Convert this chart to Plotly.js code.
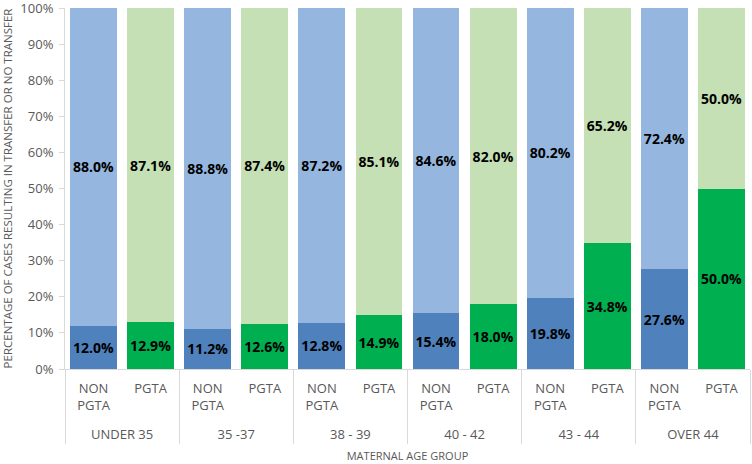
<!DOCTYPE html>
<html><head><meta charset="utf-8">
<script src="https://cdn.plot.ly/plotly-3.0.1.min.js"></script>
<style>html,body{margin:0;padding:0;background:#fff}#c{width:752px;height:464px}</style>
</head><body><div id="c"></div>
<script>
const groups = ["UNDER 35", "35 -37", "38 - 39", "40 - 42", "43 - 44", "OVER 44"];
const subNon = "NON<br>PGTA<br> ";
const subPgta = "PGTA";
const nonBottom = [12.0, 11.2, 12.8, 15.4, 19.8, 27.6];
const nonTop = [88.0, 88.8, 87.2, 84.6, 80.2, 72.4];
const pgtaBottom = [12.9, 12.6, 14.9, 18.0, 34.8, 50.0];
const pgtaTop = [87.1, 87.4, 85.1, 82.0, 65.2, 50.0];
const yTicks = [0,10,20,30,40,50,60,70,80,90,100];

const txtFont = {family: "Open Sans, sans-serif", size: 14, color: "#000", weight: "bold"};
function mk(sub, vals, color, name) {
  return {
    type: "bar", name: name,
    x: [groups, groups.map(() => sub)],
    y: vals,
    marker: {color: color, line: {width: 0}},
    text: vals.map(v => v.toFixed(1) + "%"),
    textposition: "inside", insidetextanchor: "middle",
    textangle: 0,
    constraintext: "none",
    textfont: txtFont,
    hoverinfo: "skip"
  };
}
const data = [
  mk(subNon, nonBottom, "#4F81BD", "non-bottom"),
  mk(subNon, nonTop, "#95B7DF", "non-top"),
  mk(subPgta, pgtaBottom, "#00B050", "pgta-bottom"),
  mk(subPgta, pgtaTop, "#C5E0B4", "pgta-top")
];
const layout = {
  width: 752, height: 464,
  margin: {l: 65, r: 2, t: 8, b: 95},
  barmode: "stack", bargap: 0.18,
  showlegend: false,
  paper_bgcolor: "#fff", plot_bgcolor: "#fff",
  font: {family: "Open Sans, sans-serif", color: "#595959", size: 12},
  xaxis: {
    type: "multicategory",
    showline: true, linecolor: "#d9d9d9", linewidth: 1,
    showdividers: true, dividercolor: "#d9d9d9", dividerwidth: 1,
    tickfont: {size: 13, color: "#595959"},
    ticklabelstandoff: 7,
    title: {text: "MATERNAL AGE GROUP", font: {size: 11, color: "#595959"}, standoff: 9},
    ticks: ""
  },
  yaxis: {
    range: [0, 100],
    tickvals: yTicks, ticktext: yTicks.map(v => v + "%"),
    showgrid: false, zeroline: false,
    showline: true, linecolor: "#d9d9d9", linewidth: 1,
    ticks: "outside", ticklen: 5, tickcolor: "#d9d9d9",
    ticklabelstandoff: 3, ticklabeloverflow: "allow",
    tickfont: {size: 13, color: "#595959"},
    title: {text: "PERCENTAGE OF CASES RESULTING IN TRANSFER OR NO TRANSFER", font: {size: 11.5, color: "#595959"}, standoff: 5}
  }
};
Plotly.newPlot("c", data, layout, {displayModeBar: false, staticPlot: true});
</script></body></html>
